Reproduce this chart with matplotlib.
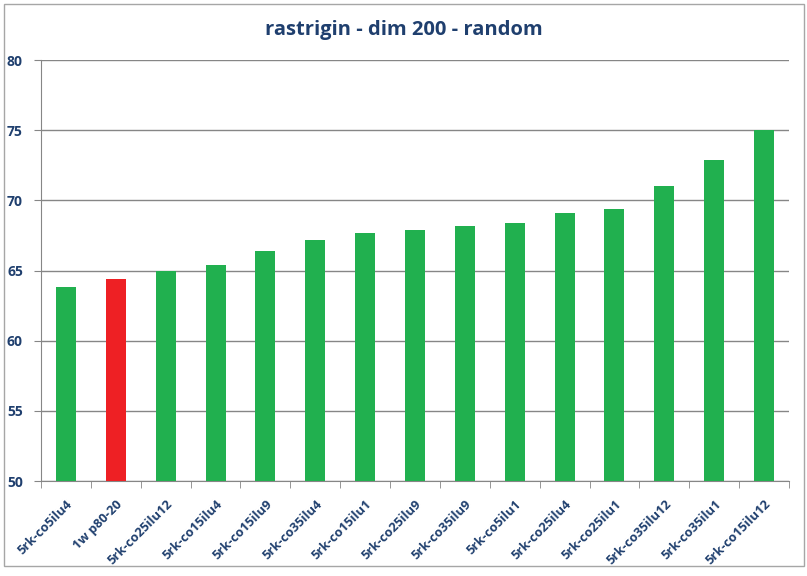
import matplotlib.pyplot as plt
from matplotlib.patches import Rectangle

# data
labels = ["5rk-co5ilu4", "1w p80-20", "5rk-co25ilu12", "5rk-co15ilu4", "5rk-co15ilu9",
          "5rk-co35ilu4", "5rk-co15ilu1", "5rk-co25ilu9", "5rk-co35ilu9", "5rk-co5ilu1",
          "5rk-co25ilu4", "5rk-co25ilu1", "5rk-co35ilu12", "5rk-co35ilu1", "5rk-co15ilu12"]
values = [63.8, 64.4, 65.0, 65.4, 66.4, 67.2, 67.7, 67.9, 68.2, 68.4,
          69.1, 69.4, 71.0, 72.9, 75.0]
highlight = "1w p80-20"

green = "#21B04F"
red = "#EE2024"
navy = "#1F3F6E"
grid_grey = "#868686"

plt.rcParams['font.family'] = ['Open Sans', 'DejaVu Sans']

fig = plt.figure(figsize=(8.07, 5.76), dpi=100)
fig.patch.set_facecolor("white")

# chart area border
fig.patches.append(Rectangle((4 / 807, 10 / 576), 800 / 807, 562 / 576,
                             transform=fig.transFigure, fill=False,
                             edgecolor="#A6A6A6", linewidth=1))

ax = fig.add_axes([41 / 807, 95 / 576, 748 / 807, 421 / 576])
x = list(range(len(labels)))
colors = [red if lab == highlight else green for lab in labels]
ax.bar(x, values, width=0.4, color=colors, zorder=3)

ax.set_ylim(50, 80)
ax.set_xlim(-0.5, len(labels) - 0.5)
ax.set_yticks(range(50, 81, 5))
ax.yaxis.grid(True, color=grid_grey, linewidth=1)
ax.set_axisbelow(True)

for s in ["top", "right"]:
    ax.spines[s].set_visible(False)
ax.spines["left"].set_color(grid_grey)
ax.spines["bottom"].set_color(grid_grey)

ax.set_xticks(x)
ax.set_xticklabels(labels, rotation=45, ha="right", va="top",
                   rotation_mode="anchor", fontsize=9.3, fontweight="bold", color=navy)
ax.tick_params(axis="x", which="major", length=0, pad=12)
ax.set_xticks([i + 0.5 for i in x[:-1]] + [-0.5, len(labels) - 0.5], minor=True)
ax.tick_params(axis="x", which="minor", length=5, color=grid_grey)
ax.tick_params(axis="y", length=5, color=grid_grey, labelsize=10, labelcolor=navy, pad=8)
for t in ax.get_yticklabels():
    t.set_fontweight("bold")

fig.text(0.5, 1 - 30 / 576, "rastrigin - dim 200 - random", ha="center", va="center",
         fontsize=14.5, fontweight="bold", color=navy)

fig.savefig("out.png", dpi=100)
